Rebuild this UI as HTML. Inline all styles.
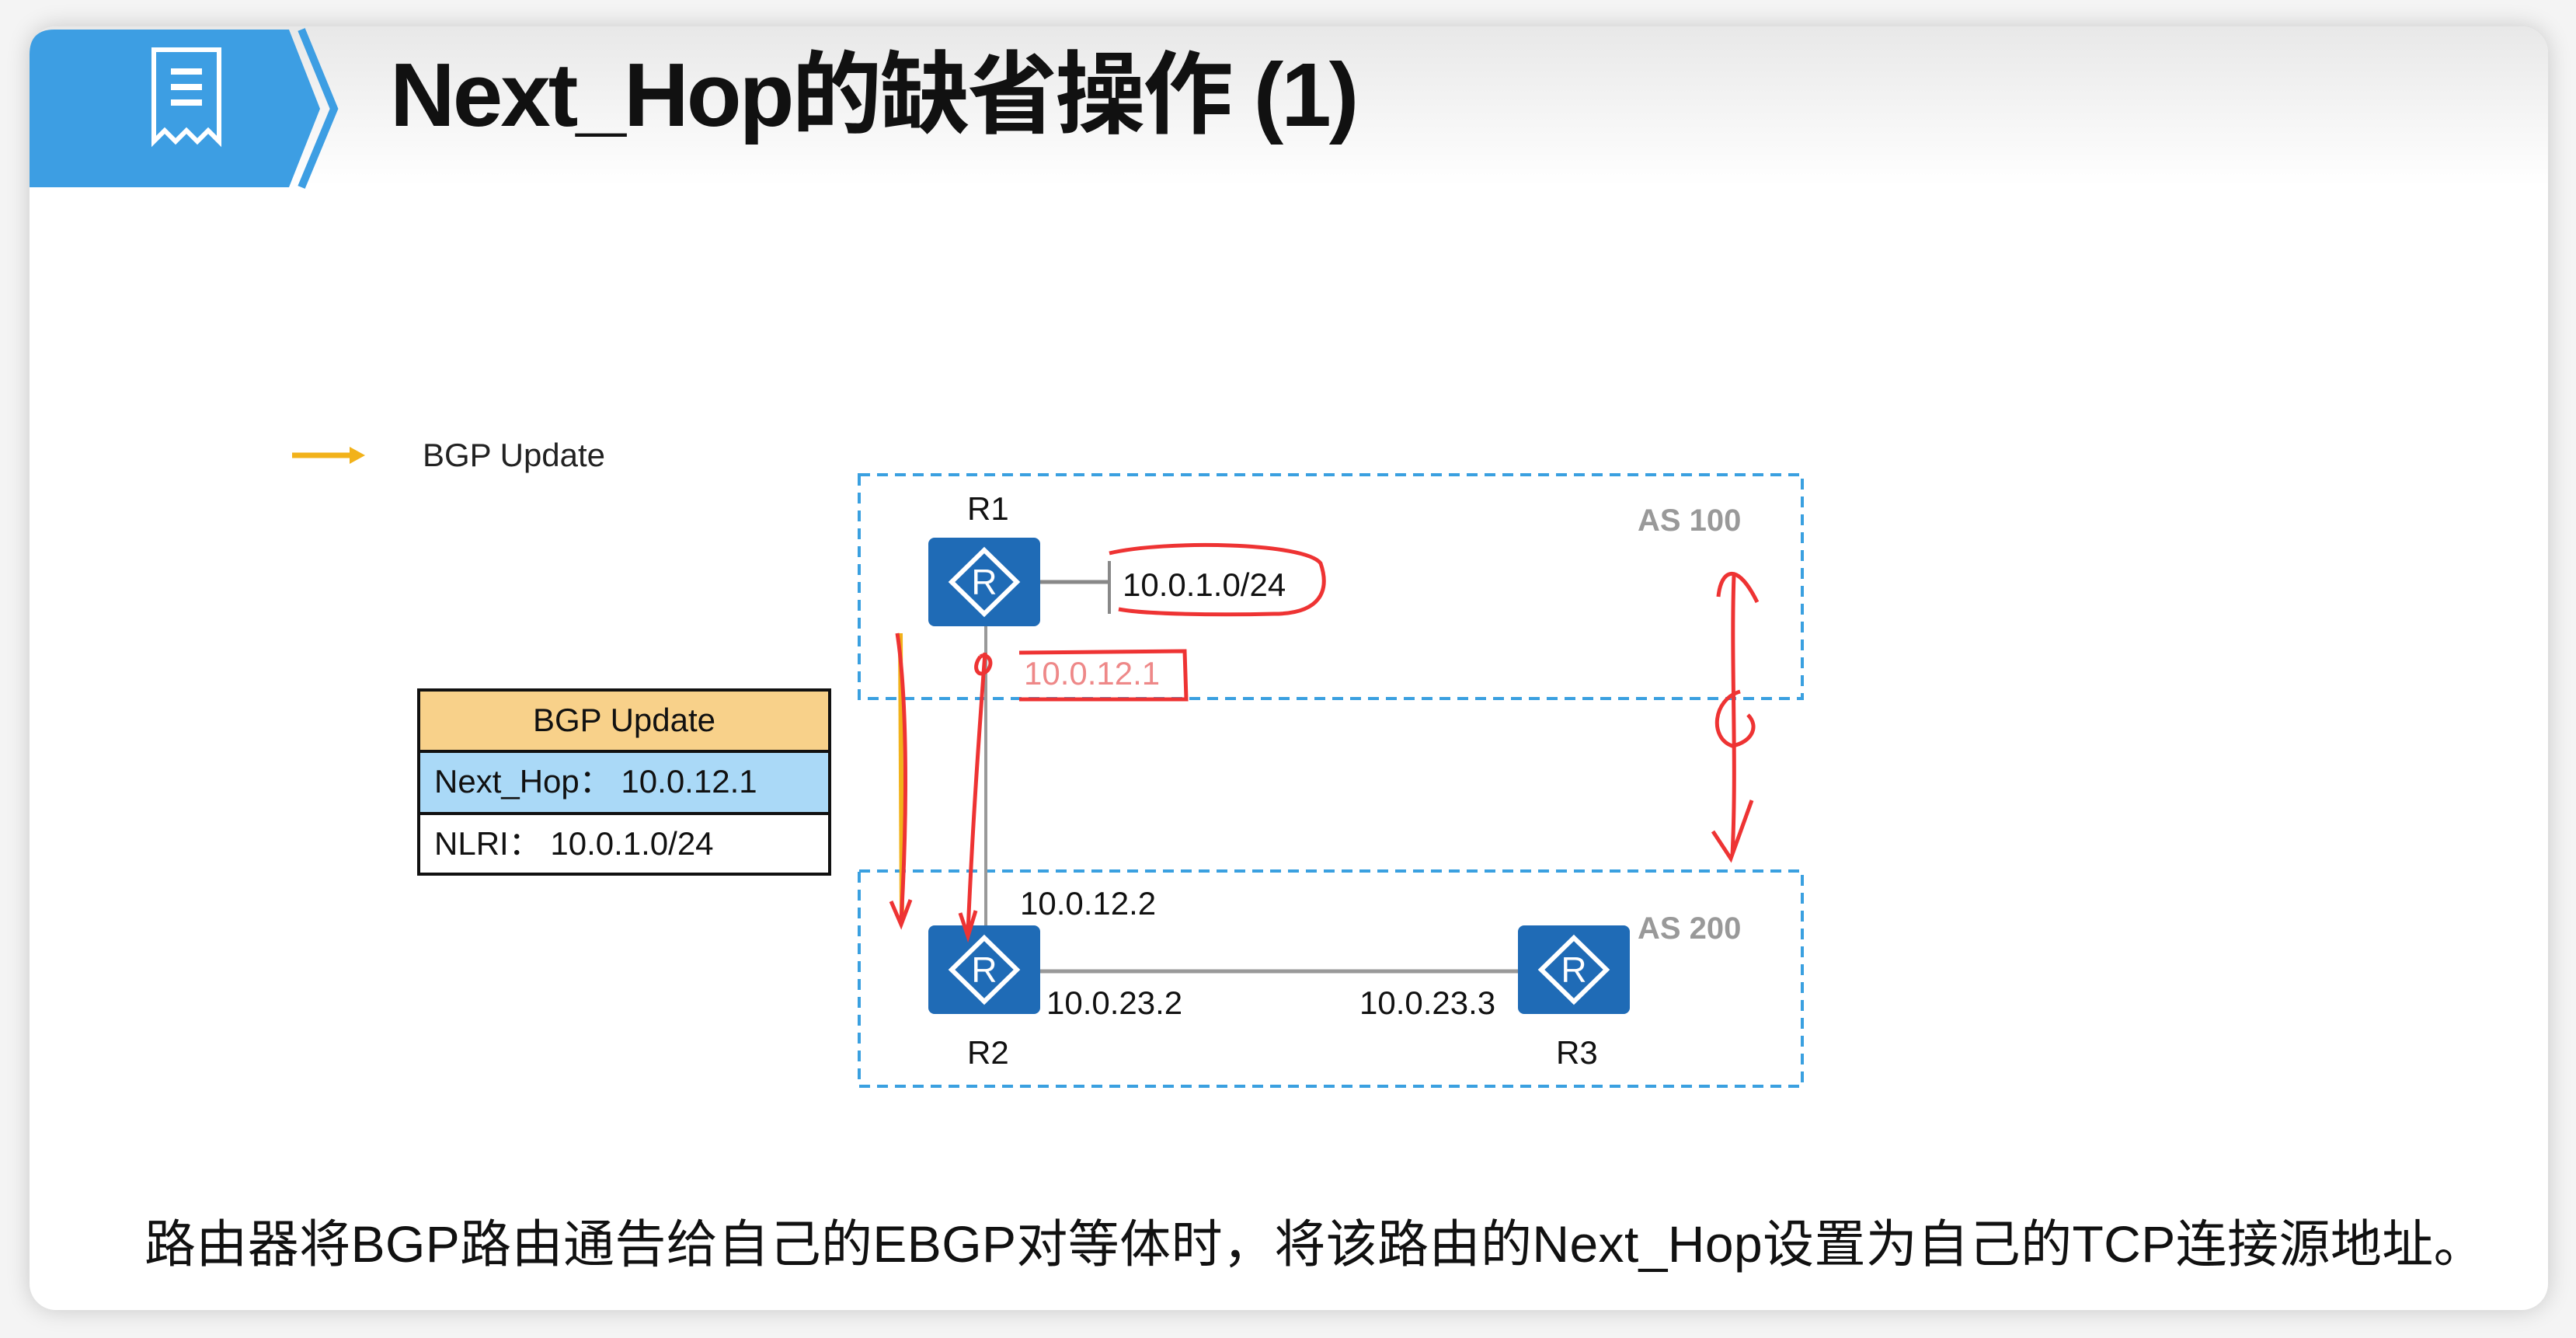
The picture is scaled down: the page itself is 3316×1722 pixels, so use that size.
<!DOCTYPE html>
<html><head><meta charset="utf-8"><style>
html,body{margin:0;padding:0;width:3316px;height:1722px;background:#f4f4f4;overflow:hidden}
.card{position:absolute;left:38px;top:34px;width:3242px;height:1652px;background:#fff;border-radius:34px;box-shadow:0 0 30px rgba(0,0,0,0.18);overflow:hidden}
.hdr{position:absolute;left:0;top:0;width:3242px;height:205px;background:linear-gradient(#e8e8e8,#fff)}
.t{position:absolute;font-family:"Liberation Sans","Noto Sans CJK SC",sans-serif;white-space:nowrap;line-height:1}
</style></head><body>
<div class="card">
<div class="hdr"></div>
</div>
<svg width="3316" height="1722" style="position:absolute;left:0;top:0" xmlns="http://www.w3.org/2000/svg">
<path d="M70,38 H372 L412,140 372,241 H38 V70 Q38,38 70,38 Z" fill="#3d9ee3"/>
<polyline points="388,38 430,140 388,241" fill="none" stroke="#3d9ee3" stroke-width="10"/>
<path d="M198,64 h84 v118 l-14,-14 -14,14 -14,-14 -14,14 -14,-14 -14,14 z" fill="none" stroke="#fff" stroke-width="6"/>
<rect x="220" y="88" width="40" height="8" fill="#fff"/><rect x="220" y="108" width="40" height="8" fill="#fff"/><rect x="220" y="128" width="40" height="8" fill="#fff"/>
<line x1="376" y1="586" x2="455" y2="586" stroke="#f2b21a" stroke-width="7"/>
<polygon points="470,586 450,575 450,597" fill="#f2b21a"/>
<rect x="1106" y="611" width="1214" height="288" fill="none" stroke="#3aa0e0" stroke-width="4" stroke-dasharray="14,9"/>
<rect x="1106" y="1121" width="1214" height="277" fill="none" stroke="#3aa0e0" stroke-width="4" stroke-dasharray="14,9"/>
<line x1="1339" y1="749" x2="1428" y2="749" stroke="#888" stroke-width="5"/>
<line x1="1428" y1="722" x2="1428" y2="790" stroke="#888" stroke-width="4"/>
<line x1="1269" y1="806" x2="1269" y2="1191" stroke="#999" stroke-width="4"/>
<line x1="1339" y1="1250" x2="1954" y2="1250" stroke="#999" stroke-width="5"/>
<g id="r"><rect x="1195" y="692" width="144" height="114" rx="8" fill="#1f6bb6"/>
<polygon points="1267,708 1309,749 1267,790 1225,749" fill="none" stroke="#fff" stroke-width="6"/>
<text x="1267" y="765" font-family="Liberation Sans" font-size="46" fill="#fff" text-anchor="middle">R</text></g>
<use href="#r" y="499"/>
<use href="#r" x="759" y="499"/>
<rect x="539" y="888" width="529" height="79" fill="#f8d18a" stroke="#111" stroke-width="4"/>
<rect x="539" y="967" width="529" height="80" fill="#aad9f7" stroke="#111" stroke-width="4"/>
<rect x="539" y="1047" width="529" height="78" fill="#fff" stroke="#111" stroke-width="4"/>
<path d="M1428,712 C1500,695 1680,698 1700,725 C1712,760 1700,790 1640,790 C1560,792 1470,790 1440,784" fill="none" stroke="#e33" stroke-width="5"/>
<path d="M1312,840 L1525,838 L1527,900 L1312,900" fill="none" stroke="#e33" stroke-width="5"/>
<path d="M1262,845 C1250,860 1260,875 1272,862 C1280,850 1270,840 1262,845" fill="none" stroke="#e33" stroke-width="5"/>
<line x1="1159" y1="815" x2="1161" y2="1180" stroke="#f2b21a" stroke-width="6"/>
<path d="M1155,815 C1168,900 1168,1050 1160,1185 M1147,1160 L1160,1190 L1172,1158" fill="none" stroke="#e33" stroke-width="5"/>
<path d="M1268,840 C1260,950 1252,1060 1246,1200 M1236,1175 L1246,1205 L1256,1172" fill="none" stroke="#e33" stroke-width="5"/>
<path d="M2232,740 C2228,850 2236,980 2230,1100 M2212,768 C2215,735 2235,720 2262,775 M2205,1070 L2228,1105 L2255,1030" fill="none" stroke="#e33" stroke-width="5"/>
<path d="M2240,890 C2205,900 2200,950 2230,960 C2255,955 2265,935 2250,920" fill="none" stroke="#e33" stroke-width="5"/>
</svg>
<div class="t" style="left:502px;top:64px;font-size:116px;font-weight:bold;color:#111;letter-spacing:-3px">Next_Hop的缺省操作 (1)</div>
<div class="t" style="left:544px;top:565px;font-size:42px;color:#222">BGP Update</div>
<div class="t" style="left:1245px;top:634px;font-size:42px;color:#111">R1</div>
<div class="t" style="left:1245px;top:1334px;font-size:42px;color:#111">R2</div>
<div class="t" style="left:2003px;top:1334px;font-size:42px;color:#111">R3</div>
<div class="t" style="left:2108px;top:650px;font-size:40px;font-weight:bold;color:#999">AS 100</div>
<div class="t" style="left:2108px;top:1175px;font-size:40px;font-weight:bold;color:#999">AS 200</div>
<div class="t" style="left:1445px;top:732px;font-size:42px;color:#111">10.0.1.0/24</div>
<div class="t" style="left:1318px;top:846px;font-size:42px;color:#e88">10.0.12.1</div>
<div class="t" style="left:1313px;top:1142px;font-size:42px;color:#111">10.0.12.2</div>
<div class="t" style="left:1347px;top:1270px;font-size:42px;color:#111">10.0.23.2</div>
<div class="t" style="left:1750px;top:1270px;font-size:42px;color:#111">10.0.23.3</div>
<div class="t" style="left:539px;top:906px;width:529px;text-align:center;font-size:42px;color:#111">BGP Update</div>
<div class="t" style="left:559px;top:985px;font-size:42px;color:#111">Next_Hop：&nbsp;10.0.12.1</div>
<div class="t" style="left:559px;top:1065px;font-size:42px;color:#111">NLRI：&nbsp;10.0.1.0/24</div>
<div class="t" style="left:186px;top:1568px;font-size:66px;color:#111;letter-spacing:0.4px">路由器将BGP路由通告给自己的EBGP对等体时，将该路由的Next_Hop设置为自己的TCP连接源地址。</div>
</body></html>
